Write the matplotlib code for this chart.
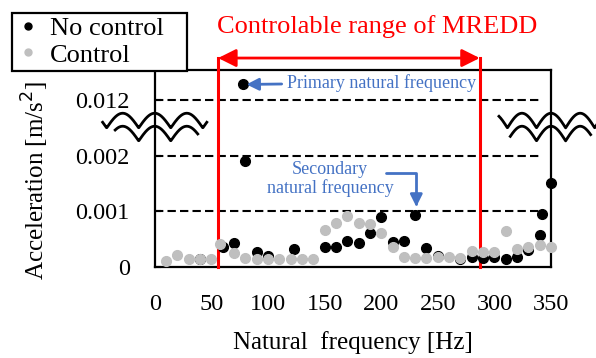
import numpy as np
import matplotlib
matplotlib.use("Agg")
import matplotlib.pyplot as plt
from matplotlib.lines import Line2D

plt.rcParams['font.family'] = ['Liberation Serif', 'DejaVu Serif']

# data (Hz, m/s^2)
freq_ctrl = [10, 20, 30, 40, 50, 58, 70, 80, 90, 100, 110, 120, 130, 140, 150, 160, 170, 180,
             190, 200, 210, 220, 230, 240, 250, 260, 270, 280, 290, 300, 310, 320, 330, 340, 350]
acc_ctrl = [0.00010, 0.00021, 0.00013, 0.00013, 0.00013, 0.00040, 0.00024, 0.00015, 0.00013,
            0.00013, 0.00013, 0.00013, 0.00013, 0.00013, 0.00066, 0.00079, 0.00091, 0.00079,
            0.00076, 0.00061, 0.00036, 0.00018, 0.00015, 0.00015, 0.00017, 0.00017, 0.00015,
            0.00029, 0.00027, 0.00027, 0.00064, 0.00031, 0.00035, 0.00039, 0.00036]
freq_nc = [40, 60, 70, 78, 80, 90, 100, 123, 150, 160, 170, 180, 190, 200, 210, 220, 230, 240,
           250, 270, 280, 290, 300, 310, 320, 330, 340, 342, 350]
acc_nc = [0.00014, 0.00036, 0.00043, 0.01228, 0.00190, 0.00026, 0.00020, 0.00031, 0.00036,
          0.00036, 0.00046, 0.00042, 0.00061, 0.00090, 0.00045, 0.00046, 0.00093, 0.00033,
          0.00019, 0.00014, 0.00017, 0.00015, 0.00017, 0.00013, 0.00017, 0.00030, 0.00057,
          0.00095, 0.00150]
ytick_vals = [0, 0.001, 0.002, 0.012]
xtick_vals = [0, 50, 100, 150, 200, 250, 300, 350]
range_lo, range_hi = 56, 287   # controlable range of MREDD [Hz]

GAP = 0.009  # the axis is broken between 0.0025 and 0.0115


def to_axis(v):
    v = np.asarray(v, dtype=float)
    return np.where(v > 0.0025, v - GAP, v)


fig = plt.figure(figsize=(5.96, 3.58), dpi=100)
ax = fig.add_axes([0.2596, 0.255, 0.665, 0.5495])

ax.plot(freq_nc, to_axis(acc_nc), 'o', color='black', ms=7, zorder=3, clip_on=False)
ax.plot(freq_ctrl, to_axis(acc_ctrl), 'o', color='#bfbfbf', ms=7, zorder=3, clip_on=False)

ax.set_xlim(0, 350)
ax.set_ylim(0, 0.00354)
yt = to_axis(ytick_vals)
ax.set_yticks(yt)
ax.set_yticklabels(['0', '0.001', '0.002', '0.012'])
ax.set_xticks(xtick_vals)
ax.tick_params(axis='x', length=0, pad=20, labelsize=17.5)
ax.tick_params(axis='y', direction='in', length=4, width=1.5, pad=18, labelsize=17.5)
for s in ax.spines.values():
    s.set_linewidth(1.6)

for y in yt[1:]:
    ax.axhline(y, xmin=0, xmax=0.975, color='black', lw=1.5, ls=(0, (4, 2)), zorder=1)

ax.set_xlabel('Natural  frequency [Hz]', fontsize=18)
ax.set_ylabel('Acceleration [m/s$^2$]', fontsize=18)
ax.xaxis.set_label_coords(0.5, -0.325)
ax.yaxis.set_label_coords(-0.262, 0.44)

# break symbols (arches with sharp valleys)
wy = 0.00263
amp = 0.000132
off = 0.000234
for (x0, x1, lx0, lx1, xp, per) in [(-46, 46, -35, 38, 0, 28.3), (304, 392, 314, 385, 350, 25.7)]:
    xs = np.linspace(x0, x1, 300)
    top = wy + amp * (2 * np.abs(np.cos(np.pi * (xs - xp) / per)) - 1)
    ax.fill_between(xs, top + 0.00004, top - off, color='white', zorder=2.3, clip_on=False)
    ax.plot(xs, top, color='black', lw=2, zorder=2.4, clip_on=False)
    m = (xs >= lx0) & (xs <= lx1)
    ax.plot(xs[m], top[m] - off, color='black', lw=2, zorder=2.4, clip_on=False)

# controllable range bracket
ytop = 0.003755
for xr in (range_lo, range_hi):
    ax.plot([xr, xr], [0, ytop], color='red', lw=2.2, zorder=2.6, clip_on=False)
ax.annotate('', xy=(range_lo, ytop), xytext=(range_hi, ytop), annotation_clip=False,
            arrowprops=dict(arrowstyle='<|-|>', color='red', lw=2, mutation_scale=27,
                            shrinkA=0, shrinkB=0))
ax.text((range_lo + range_hi) / 2 + 25, 0.00432, 'Controlable range of MREDD', color='red',
        fontsize=19, ha='center', va='center', clip_on=False)

blue = '#4472c4'
ax.annotate('Primary natural frequency', xy=(81, to_axis(0.01228)), xytext=(117, 0.00331),
            color=blue, fontsize=13, ha='left', va='center', annotation_clip=False,
            arrowprops=dict(arrowstyle='-|>', color=blue, lw=2, mutation_scale=18,
                            shrinkA=2, shrinkB=0))
ax.text(155, 0.00158, 'Secondary\nnatural frequency', color=blue, fontsize=13,
        ha='center', va='center', linespacing=1.05)
ax.annotate('', xy=(231, 0.00108), xytext=(204, 0.00169),
            arrowprops=dict(arrowstyle='-|>', color=blue, lw=2, mutation_scale=18,
                            shrinkA=0, shrinkB=0,
                            connectionstyle='angle,angleA=0,angleB=90,rad=0'))

handles = [Line2D([], [], ls='none', marker='o', color='black', ms=5),
           Line2D([], [], ls='none', marker='o', color='#bfbfbf', ms=5)]
leg = fig.legend(handles, ['No control', 'Control'], loc='upper left', mode='expand',
                 bbox_to_anchor=(12 / 596, 1 - 70 / 358, 175 / 596, 57 / 358), fontsize=19,
                 frameon=True, fancybox=False, framealpha=1, edgecolor='black', borderpad=0.15,
                 labelspacing=0.1, handlelength=0.9, handletextpad=0.4, borderaxespad=0)
leg.get_frame().set_linewidth(1.6)

fig.savefig('out.png', dpi=100)
